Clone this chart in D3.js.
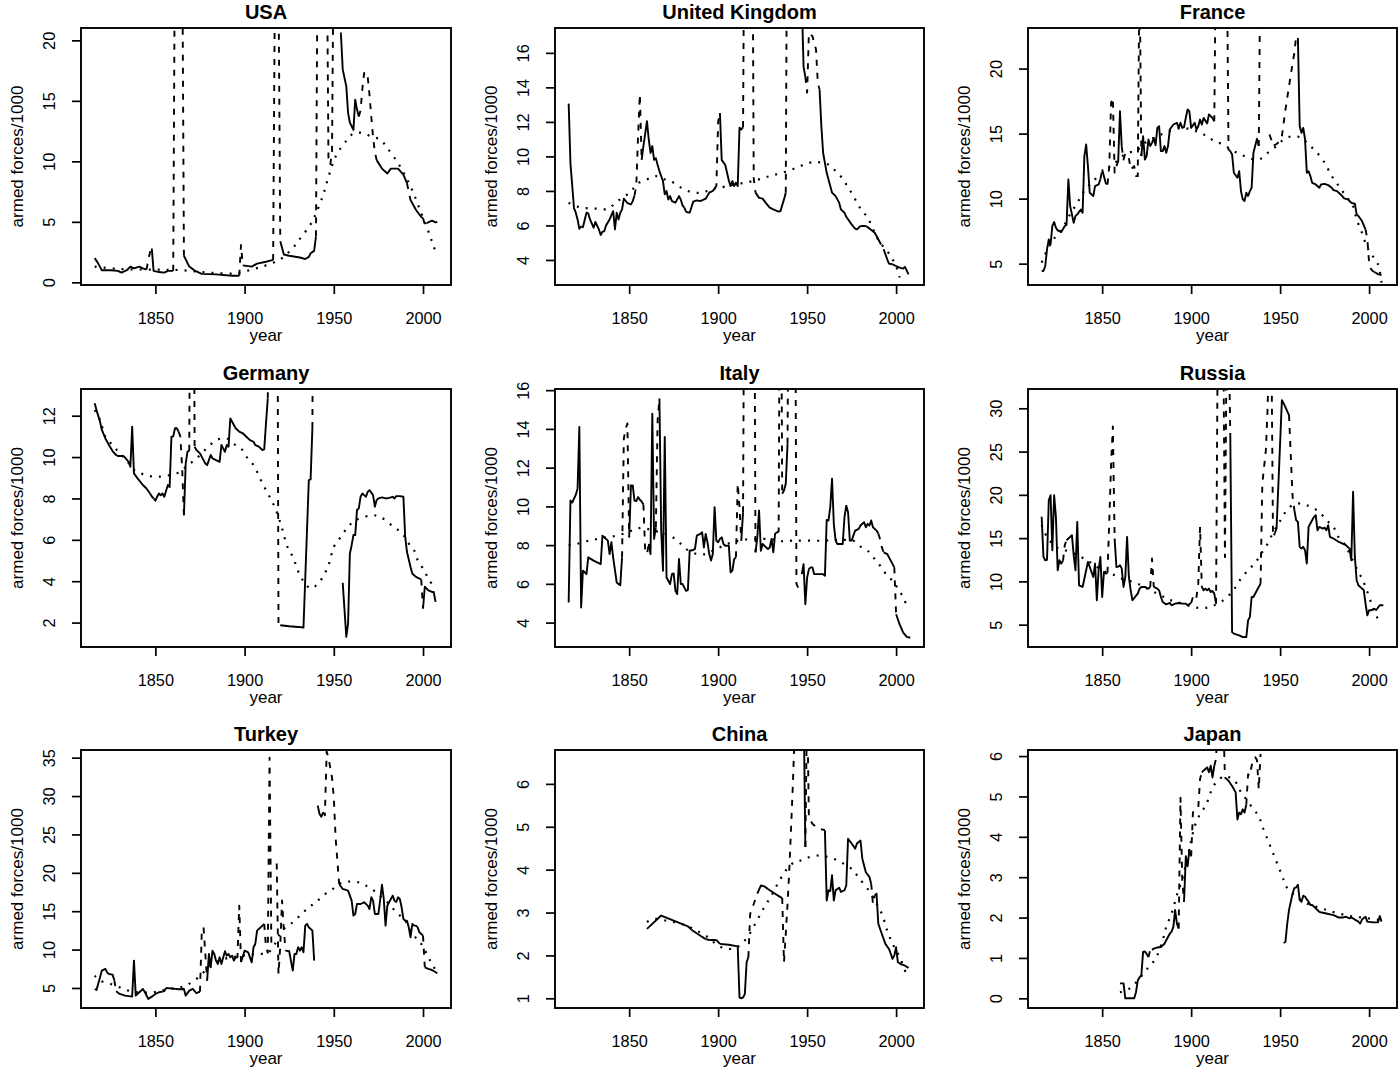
<!DOCTYPE html>
<html><head><meta charset="utf-8">
<script src="https://cdn.jsdelivr.net/npm/d3@7"></script>
<style>body{margin:0;background:#fff}svg{display:block}</style>
</head><body><svg id="chart" width="1400" height="1072"></svg>
<script>
// ---------------- DATA ----------------
const countries = ["USA","United Kingdom","France","Germany","Italy","Russia","Turkey","China","Japan"];
const yearSpan = [1816, 2008];
const xTickValues = [1850, 1900, 1950, 2000];
const yLimits = [[-0.22,21.02],[2.55,17.44],[3.36,23.12],[0.82,13.29],[2.74,16.06],[2.42,32.23],[2.39,36.0],[0.774,6.79],[-0.24,6.15]];
const yTickValues = [[0,5,10,15,20],[4,6,8,10,12,14,16],[5,10,15,20],[2,4,6,8,10,12],[4,6,8,10,12,14,16],[5,10,15,20,25,30],[5,10,15,20,25,30,35],[1,2,3,4,5,6],[0,1,2,3,4,5,6]];
const xLabel = "year";
const yLabel = "armed forces/1000";

// peace years (solid), war years (dashed), smooth trend (dotted); null = break
const usaSolid = [[1816,2.0],[1818,1.55],[1820,1.0],[1825,1.0],[1829,0.95],[1831,0.8],[1834,1.0],[1836,1.3],[1838,1.15],[1841,1.3],[1843,1.15],[1845,1.05],null,
[1848,2.8],[1849,0.95],[1852,0.85],[1855,0.8],[1857,0.95],[1860,0.95],null,
[1866,2.2],[1869,1.3],[1872,0.97],[1876,0.7],[1884,0.66],[1893,0.55],[1897,0.55],null,
[1899,1.4],[1904,1.3],[1907,1.55],[1912,1.7],[1916,1.85],null,
[1920,3.4],[1922,2.3],[1925,2.2],[1931,2.05],[1934,1.93],[1936,2.1],[1937,2.4],[1939,2.6],[1940,3.8],null,
[1954,20.5],[1955,17.6],[1957,16.2],[1958,14.0],[1959,13.2],[1961,12.6],[1962,15.1],[1963,14.3],[1964,13.7],null,
[1974,10.1],[1977,9.4],[1980,9.0],[1982,9.4],[1986,9.4],[1989,8.9],[1991,8.2],null,
[1993,6.8],[1996,6.0],[1999,5.4],[2000,5.3],null,
[2002,4.9],[2005,5.1],[2007,4.95],[2008,5.0]];
const usaDashed = [[1845,1.05],[1846,1.8],[1847,2.5],[1848,2.8],null,
[1860,0.95],[1861,30],[1865,30],[1866,2.2],null,
[1897,0.55],[1898,3.1],[1899,1.4],null,
[1916,1.85],[1917,25],[1918,30],[1919,25],[1920,3.4],null,
[1940,3.8],[1941,30],[1946,30],[1947,10.3],[1948,9.7],[1949,10.8],[1950,30],[1953,30],[1954,20.5],null,
[1964,13.7],[1965,14.2],[1966,16.0],[1967,17.3],[1968,17.4],[1969,17.0],[1970,15.5],[1971,13.7],[1972,12.0],[1973,10.8],[1974,10.1],null,
[1991,8.2],[1992,7.5],[1993,6.8],null,
[2000,5.3],[2001,4.8],[2002,4.9]];
const usaTrend = [[1816,1.3],[1830,1.1],[1850,1.05],[1865,1.0],[1880,0.8],[1895,0.75],[1905,1.1],[1912,1.4],[1920,1.9],[1924,2.4],[1928,3.0],[1931,3.6],[1937,4.8],[1940,5.7],[1944,7.2],[1947,8.7],[1951,10.4],[1957,11.7],[1961,12.3],[1966,12.35],[1971,12.05],[1976,11.8],[1980,11.1],[1986,9.85],[1990,8.8],[1994,7.6],[1998,6.1],[2002,4.6],[2004,3.8],[2006,2.95],[2008,2.2]];

const ukSolid = [[1816,13.06],[1817,9.6],[1818,8.3],[1819,7.0],[1820,6.74],[1821,6.35],[1822,5.81],[1823,5.93],[1824,5.9],[1826,6.74],[1827,6.7],[1828,6.35],[1830,5.87],[1831,6.2],[1833,5.77],[1834,5.45],[1835,5.64],[1836,5.66],[1837,6.0],[1839,6.35],[1841,6.83],[1842,5.77],[1843,6.74],[1844,6.35],[1845,6.74],[1846,6.93],[1847,7.55],[1849,7.3],[1851,7.22],[1852,7.41],[1853,7.74],null,
[1857,9.8],[1858,10.6],[1860,12.04],[1861,10.98],[1862,10.2],[1863,10.6],[1864,9.8],[1865,9.9],[1866,9.5],[1867,9.15],[1869,8.57],[1870,7.8],[1871,8.0],[1872,7.5],[1873,7.7],[1874,7.41],[1876,7.32],[1878,7.7],[1879,7.5],[1880,7.16],[1881,7.03],null,
[1882,6.78],[1884,6.74],[1886,7.38],[1888,7.45],[1890,7.41],[1893,7.55],[1895,7.9],[1897,8.0],[1898,8.13],null,
[1901,12.52],[1902,9.8],[1904,9.5],[1905,9.05],[1906,8.6],[1907,8.28],[1908,8.57],[1909,8.28],[1910,8.47],[1911,8.28],[1912,11.66],[1913,11.56],[1914,11.7],null,
[1921,7.9],[1923,7.6],[1925,7.55],[1927,7.28],[1929,7.03],[1931,6.93],[1934,6.8],[1935,6.83],[1937,7.51],[1938,7.9],null,
[1947,19.0],[1948,15.2],[1949,14.6],null,
[1957,13.87],[1958,11.75],[1959,10.2],[1961,9.05],[1963,8.28],[1964,7.9],[1966,7.7],[1968,7.32],[1969,6.93],[1971,6.74],[1972,6.5],[1975,6.06],[1977,5.81],[1978,5.77],[1980,5.97],null,
[1983,5.97],[1985,5.83],[1988,5.58],[1990,5.2],null,
[1993,4.62],[1995,4.04],[1996,3.79],[1998,3.75],null,
[2000,3.65],[2002,3.56],[2004,3.5],[2005,3.6],[2007,3.17]];
const ukDashed = [[1853,7.74],[1854,8.3],[1855,11.2],[1856,13.6],[1857,9.8],null,
[1881,7.03],[1882,6.78],null,
[1898,8.13],[1899,8.3],[1900,12.0],[1901,12.52],null,
[1914,11.7],[1915,30],[1919,30],[1920,8.7],[1921,7.9],null,
[1938,7.9],[1939,30],[1946,30],[1947,19.0],null,
[1949,14.6],[1950,13.7],[1951,17.15],[1953,16.96],[1955,16.19],[1956,14.26],[1957,13.87],null,
[1980,5.97],[1983,5.97],null,
[1990,5.2],[1991,5.0],[1993,4.62],null,
[1998,3.75],[2000,3.65]];
const ukTrend = [[1816,7.32],[1821,7.09],[1826,7.0],[1832,6.97],[1838,6.95],[1842,7.28],[1846,7.6],[1851,7.95],[1854,8.38],[1860,8.67],[1865,8.86],[1870,8.67],[1875,8.47],[1880,8.13],[1885,7.93],[1890,7.9],[1894,8.0],[1898,8.15],[1901,8.19],[1908,8.35],[1917,8.51],[1923,8.67],[1929,8.86],[1936,9.05],[1944,9.34],[1951,9.63],[1956,9.67],[1962,9.53],[1965,9.25],[1968,8.96],[1972,8.38],[1976,7.7],[1980,6.97],[1984,6.45],[1988,5.58],[1991,5.0],[1995,4.52],[1998,4.04],[2000,3.65],[2002,2.98]];

const franceSolid = [[1816,4.44],[1817,4.44],[1818,4.8],[1819,6.1],[1820,6.87],[1821,6.48],[1822,7.9],[1823,8.2],[1824,7.76],[1825,7.56],[1827,7.43],[1829,7.9],[1830,8.0],[1831,11.48],[1832,9.43],[1834,8.15],[1835,8.66],[1836,8.79],[1838,9.17],[1839,8.92],[1840,13.27],[1841,14.16],[1842,12.5],[1843,10.45],[1845,10.2],[1846,10.96],[1848,11.09],[1849,11.48],null,
[1850,12.24],[1852,11.2],[1853,11.09],null,
[1858,12.5],[1859,12.88],[1860,16.72],[1861,14.0],null,
[1872,13.27],[1873,14.8],[1874,13.0],[1875,13.27],[1876,14.55],[1877,14.04],[1878,14.29],[1879,14.67],[1880,14.1],[1881,15.44],[1882,15.57],[1883,13.65],[1884,13.65],[1885,14.04],[1886,13.52],[1887,14.04],[1888,15.31],[1890,15.7],[1892,15.83],[1893,15.44],[1894,15.83],[1895,15.44],[1896,15.5],[1897,16.21],[1898,16.85],[1899,16.72],[1900,15.44],[1902,15.83],[1903,15.31],[1904,15.57],[1905,16.08],[1906,15.7],[1907,16.21],[1909,15.78],[1910,16.47],[1911,16.34],[1912,16.2],[1913,15.95],null,
[1922,13.65],[1923,13.4],[1924,11.99],[1925,11.8],[1926,11.6],[1927,12.11],[1928,10.58],[1929,9.94],[1930,9.81],[1931,10.45],[1932,10.2],[1933,10.58],[1934,10.84],[1935,13.52],[1937,14.6],[1938,14.04],null,
[1960,22.35],[1961,15.57],[1962,15.06],[1963,15.44],[1964,14.55],[1965,11.99],[1966,12.1],[1967,11.73],[1968,11.22],[1970,11.09],[1972,10.84],[1973,11.09],[1975,11.14],[1977,11.04],[1979,10.84],[1980,10.66],[1982,10.58],[1984,10.32],[1986,10.02],[1988,9.94],[1990,9.68],[1992,9.61],[1993,8.79],[1994,8.66],[1996,8.28],[1998,7.64],null,
[2003,4.36],[2005,4.2],[2007,4.13]];
const franceDashed = [[1849,11.48],[1850,12.24],null,
[1853,11.09],[1854,12.5],[1855,17.36],[1856,17.75],[1857,12.0],[1858,12.5],null,
[1861,14.0],[1862,13.0],[1863,13.5],[1865,13.14],[1866,12.24],[1868,12.5],[1869,11.73],[1870,11.73],[1871,28],[1872,13.27],null,
[1913,15.95],[1914,30],[1920,30],[1921,13.78],[1922,13.65],null,
[1938,14.04],[1939,30],null,
[1944,14.93],[1945,14.55],[1946,14.04],[1948,14.2],[1950,14.42],[1951,14.8],[1953,16.85],[1956,19.54],[1958,21.2],[1959,22.48],[1960,22.35],null,
[1998,7.64],[1999,6.9],[2000,5.08],[2001,4.6],[2002,4.44],[2003,4.36]];
const franceTrend = [[1816,5.08],[1820,6.3],[1824,7.12],[1828,7.8],[1832,8.8],[1836,9.68],[1840,10.6],[1845,11.35],[1850,11.99],[1855,12.5],[1860,13.1],[1864,13.52],[1869,13.65],[1874,14.29],[1881,14.8],[1888,15.19],[1895,15.44],[1900,15.31],[1905,15.06],[1909,14.8],[1913,14.42],[1918,14.16],[1924,13.65],[1929,13.32],[1934,13.06],[1939,13.06],[1943,13.52],[1948,14.04],[1952,14.55],[1957,14.8],[1962,14.67],[1966,14.16],[1970,13.65],[1975,12.76],[1979,11.73],[1983,10.96],[1987,10.2],[1991,9.43],[1993,8.4],[1996,7.38],[1999,6.23],[2002,5.59],[2005,4.95],[2007,3.54]];

const germanySolid = [[1816,12.6],[1817,12.27],[1819,11.71],[1820,11.31],[1822,10.9],[1824,10.58],[1826,10.29],[1828,10.1],[1829,10.05],[1832,10.06],[1833,9.97],[1835,9.77],[1836,9.53],[1837,11.47],[1838,9.21],[1840,8.97],[1843,8.65],[1845,8.48],[1847,8.24],null,
[1849,8.0],[1850,7.89],[1851,8.08],[1852,8.24],[1853,8.15],[1854,8.24],[1855,8.08],[1857,8.65],[1858,8.55],[1859,10.98],[1860,11.0],[1861,11.39],[1862,11.39],[1863,11.23],null,
[1866,7.19],[1867,9.69],[1868,10.26],[1869,10.3],null,
[1872,10.5],[1873,10.34],[1875,10.18],[1877,9.85],[1878,9.69],[1879,9.61],[1881,10.1],[1882,9.94],[1884,9.85],[1886,9.77],[1887,10.58],[1888,10.42],[1889,10.26],[1890,10.58],[1891,10.5],[1892,11.87],[1893,11.71],[1895,11.39],[1897,11.23],[1899,11.15],[1901,10.98],[1903,10.82],[1905,10.74],[1906,10.58],[1908,10.5],[1910,10.34],[1911,10.37],[1912,11.63],[1913,12.84],null,
[1920,1.87],[1925,1.82],[1930,1.79],[1933,1.76],[1936,8.89],[1937,8.92],[1938,11.4],null,
[1955,3.92],[1957,1.31],[1958,1.95],[1959,5.34],[1960,5.74],[1961,6.23],[1962,6.23],[1963,7.44],[1964,7.52],[1965,8.08],[1966,8.24],[1967,8.16],[1968,8.08],[1969,8.32],[1970,8.4],[1972,8.16],[1973,7.6],[1974,7.92],[1975,8.0],[1977,8.05],[1979,8.0],[1981,8.03],[1983,8.08],[1984,8.0],[1985,8.11],[1987,8.11],[1989,8.08],[1990,6.15],[1991,5.42],[1993,4.69],[1994,4.37],[1996,4.21],[1998,4.13],[1999,4.08],null,
[2000,2.68],[2001,3.73],[2003,3.56],[2005,3.48],[2006,3.48],[2007,3.0]];
const germanyDashed = [[1847,8.24],[1848,8.1],[1849,8.0],null,
[1863,11.23],[1864,11.0],[1865,9.5],[1866,7.19],null,
[1869,10.3],[1870,30],[1871,30],[1872,10.5],null,
[1913,12.84],[1914,30],[1918,30],[1919,1.87],[1920,1.87],null,
[1938,11.4],[1939,30],null,
[1999,4.08],[2000,2.68]];
const germanyTrend = [[1816,12.27],[1819,11.79],[1822,10.98],[1826,10.58],[1830,10.18],[1834,9.85],[1837,9.45],[1842,9.21],[1847,9.08],[1852,9.05],[1858,9.13],[1864,9.29],[1868,9.61],[1872,9.85],[1876,10.18],[1880,10.53],[1885,10.85],[1890,10.9],[1894,10.63],[1898,10.42],[1901,10.02],[1905,9.61],[1910,8.73],[1915,7.92],[1918,7.35],[1921,6.55],[1924,5.66],[1927,5.18],[1931,4.29],[1934,3.89],[1937,3.65],[1942,3.97],[1947,4.77],[1950,5.66],[1954,6.15],[1958,6.63],[1962,6.95],[1965,7.03],[1971,7.19],[1976,7.11],[1981,6.79],[1985,6.55],[1989,6.23],[1992,5.82],[1995,5.5],[1997,5.02],[2000,4.61],[2003,4.13],[2006,3.73]];

const italySolid = [[1816,5.04],[1817,10.3],[1818,10.2],[1819,10.4],[1820,10.6],[1821,10.91],[1822,14.1],[1823,4.78],[1824,6.68],[1825,6.6],[1826,6.5],[1827,7.37],[1830,7.2],[1832,7.11],[1834,7.02],[1835,8.49],[1837,8.32],[1838,8.23],[1839,7.54],[1840,8.15],[1841,7.37],[1843,6.07],[1844,5.99],[1845,5.93],[1846,7.37],null,
[1850,8.4],[1851,11.08],[1852,11.08],[1853,10.3],[1854,10.27],[1855,10.48],[1856,10.34],[1857,10.25],[1858,10.1],null,
[1861,8.06],[1862,7.54],[1863,14.79],[1864,8.32],[1865,8.92],null,
[1867,15.57],[1868,8.75],[1869,6.68],[1870,13.59],[1871,6.33],[1873,5.99],[1874,6.5],[1875,6.54],[1876,5.64],[1877,5.47],[1878,7.28],[1879,5.99],[1880,5.99],[1881,5.81],[1882,5.64],[1883,5.68],[1884,7.71],[1886,7.75],[1887,7.8],[1888,8.49],[1890,8.58],[1891,8.66],[1892,7.88],[1893,8.58],[1894,8.15],[1895,7.54],[1896,7.2],[1897,7.54],[1898,9.96],[1899,8.23],[1900,8.15],[1901,8.32],[1902,8.4],[1903,8.06],[1904,7.97],[1906,7.97],[1907,6.59],[1908,6.68],[1909,7.28],[1910,7.37],null,
[1913,8.23],[1914,9.7],null,
[1921,7.63],[1922,8.4],[1923,9.79],[1924,7.71],[1925,8.06],[1926,7.97],[1928,7.8],[1929,7.88],[1930,8.32],[1931,7.63],[1932,8.58],[1933,8.66],null,
[1936,10.65],[1937,10.82],[1938,11.17],[1939,13.24],null,
[1947,6.5],[1948,7.02],[1949,4.95],[1950,6.33],[1951,6.76],[1952,6.85],[1953,6.85],[1954,6.5],[1957,6.5],[1959,6.5],[1960,6.42],[1961,9.3],[1962,9.27],[1963,9.96],[1964,11.43],[1965,9.1],[1966,8.23],[1967,8.06],[1970,8.06],[1971,9.44],[1972,10.04],[1973,9.7],[1974,8.23],[1975,8.23],[1977,8.75],[1979,8.84],[1980,9.01],[1982,9.18],[1983,8.92],[1984,9.1],[1985,9.01],[1986,9.27],[1987,8.92],[1988,8.84],[1989,8.75],[1990,8.6],null,
[1993,7.63],[1995,7.54],[1997,7.2],[1999,6.85],null,
[2000,4.43],[2002,3.91],[2004,3.48],[2006,3.26],[2008,3.22]];
const italyDashed = [[1846,7.37],[1847,13.5],[1848,14.0],[1849,14.28],[1850,8.4],null,
[1858,10.1],[1859,7.71],[1860,7.54],[1861,8.06],null,
[1865,8.92],[1866,14.45],[1867,15.57],null,
[1910,7.37],[1911,11.17],[1912,9.96],[1913,8.23],null,
[1914,9.7],[1915,30],[1920,30],[1921,7.63],null,
[1933,8.66],[1934,8.7],[1935,30],[1936,10.65],null,
[1939,13.24],[1940,30],[1943,30],[1944,6.0],[1945,5.8],[1946,6.1],null,
[1990,8.6],[1991,8.3],[1992,7.88],[1993,7.63],null,
[1999,6.85],[2000,4.43]];
const italyTrend = [[1816,8.0],[1820,8.05],[1826,8.2],[1831,8.3],[1837,8.4],[1843,8.49],[1849,8.66],[1854,8.84],[1858,8.9],[1863,8.75],[1868,8.66],[1873,8.49],[1878,8.15],[1882,7.8],[1888,7.54],[1893,7.54],[1897,7.71],[1903,7.97],[1908,8.15],[1914,8.27],[1920,8.32],[1930,8.3],[1936,8.2],[1942,8.23],[1950,8.23],[1959,8.23],[1965,8.27],[1970,8.27],[1976,8.23],[1980,7.92],[1984,7.71],[1988,7.28],[1991,6.94],[1995,6.42],[1998,6.16],[2001,5.76],[2004,5.3],[2006,4.86]];

const russiaSolid = [[1816,17.46],[1817,12.83],[1818,12.44],[1819,12.5],[1820,19.38],[1821,19.96],[1822,13.6],[1823,19.96],[1824,17.46],[1825,11.29],[1826,12.44],[1827,12.06],[1828,12.4],null,
[1830,14.76],[1832,15.14],[1833,15.34],[1834,13.0],[1835,11.29],[1836,16.88],[1837,9.55],[1839,9.36],[1841,11.29],[1842,12.25],[1844,11.09],[1845,10.51],[1846,12.06],[1847,7.82],[1848,11.29],[1849,12.83],[1850,8.2],[1851,11.09],[1852,10.9],[1853,11.0],null,
[1857,14.95],[1858,11.67],[1859,11.7],[1860,11.86],[1861,11.48],[1862,9.36],[1863,10.51],[1864,15.14],[1865,10.51],[1866,9.0],[1867,7.82],[1870,8.59],[1871,9.17],[1872,9.36],[1874,9.36],[1876,9.17],[1877,9.36],null,
[1879,9.36],[1881,9.17],[1882,8.97],[1883,8.2],[1884,7.62],[1886,7.35],[1888,7.51],[1889,7.24],[1891,7.43],[1893,7.51],[1895,7.43],[1897,7.43],[1898,7.24],[1900,7.51],null,
[1906,9.36],[1907,8.97],[1908,9.17],[1909,8.97],[1910,9.17],[1911,8.78],[1912,8.9],[1913,8.59],[1914,7.43],null,
[1922,26.9],[1923,4.15],[1924,3.96],[1927,3.77],[1929,3.57],[1931,3.57],[1932,5.5],[1933,5.89],[1934,8.2],[1935,8.2],[1937,8.97],[1939,9.74],null,
[1947,15.53],[1948,16.11],[1951,30.95],[1952,30.57],[1955,29.22],null,
[1958,18.23],[1959,17.07],[1960,16.88],[1961,13.99],[1962,13.79],[1963,13.99],[1964,13.6],[1965,12.06],[1966,16.3],[1967,16.69],[1969,17.46],[1970,17.65],[1971,15.91],[1972,16.3],[1974,16.11],[1975,16.2],[1976,15.91],[1977,16.49],[1978,15.14],[1980,14.95],[1983,14.56],[1987,14.18],[1989,13.79],[1990,12.44],[1991,20.35],[1992,12.83],[1993,10.13],[1994,9.55],[1996,9.17],[1997,9.0],[1998,7.43],[1999,6.08],[2000,6.66],[2001,6.66],[2003,6.85],[2004,6.7],[2006,7.24],[2008,7.24]];
const russiaDashed = [[1828,12.4],[1829,14.2],[1830,14.76],null,
[1853,11.0],[1854,17.0],[1855,23.5],[1856,27.9],[1857,14.95],null,
[1877,9.36],[1878,12.64],[1879,9.36],null,
[1900,7.51],[1901,8.2],[1902,8.59],[1903,8.2],[1904,9.74],[1905,16.3],[1906,9.36],null,
[1914,7.43],[1915,40],[1918,40],[1919,12.8],[1920,40],[1921,40],[1922,26.9],null,
[1939,9.74],[1940,21.31],[1942,25.17],[1943,30.18],[1944,40],[1945,40],[1946,15.14],[1947,15.53],null,
[1955,29.22],[1956,24.5],[1957,19.8],[1958,18.23]];
const russiaTrend = [[1816,16.49],[1819,15.14],[1824,13.99],[1829,13.6],[1832,13.41],[1838,12.83],[1843,12.25],[1847,11.67],[1852,11.09],[1857,10.71],[1861,10.32],[1867,9.94],[1872,9.55],[1877,8.97],[1883,8.39],[1887,7.93],[1892,7.62],[1898,7.24],[1903,6.97],[1909,6.97],[1913,7.24],[1918,7.82],[1923,8.78],[1928,10.32],[1932,11.29],[1936,12.13],[1939,13.1],[1942,14.0],[1946,15.6],[1950,17.0],[1953,18.0],[1957,18.81],[1962,19.0],[1967,18.61],[1972,18.03],[1976,17.07],[1980,16.3],[1982,15.34],[1986,14.37],[1989,13.21],[1993,11.48],[1996,10.32],[1998,9.36],[2000,8.2],[2002,7.04],[2004,6.08],[2006,5.12]];

const turkeySolid = [[1816,4.87],[1817,4.74],[1819,6.39],[1820,7.26],[1822,7.48],[1823,7.0],[1824,6.82],[1826,6.74],[1827,6.0],null,
[1828,4.57],[1830,4.22],[1833,4.0],[1837,3.87],[1838,8.56],[1839,4.0],[1841,4.44],[1843,4.87],[1844,4.5],[1846,3.57],[1848,3.87],[1850,4.22],[1852,4.44],[1854,4.52],null,
[1856,5.0],[1860,4.91],[1863,4.83],[1866,4.87],[1867,4.0],[1869,4.65],[1871,4.87],[1873,4.31],[1874,4.44],[1875,4.5],null,
[1879,5.96],[1880,9.43],[1881,7.69],[1882,9.86],[1883,9.43],[1884,8.56],[1885,8.13],[1886,8.99],[1887,8.13],[1889,9.78],[1890,9.21],[1891,9.43],[1892,8.99],[1893,9.21],[1894,8.56],[1895,8.99],null,
[1898,8.34],[1900,9.86],[1902,9.65],[1903,8.99],[1904,8.34],[1905,10.3],[1906,10.73],[1907,12.47],[1908,12.69],[1909,12.9],[1910,13.12],[1911,13.34],null,
[1923,9.86],[1925,9.78],[1927,7.26],[1928,9.43],[1929,9.43],[1930,10.3],[1931,9.86],[1932,10.3],[1933,9.65],[1934,13.12],[1935,13.34],[1936,12.9],[1938,12.47],[1939,8.56],null,
[1941,28.75],[1942,27.67],[1943,27.3],[1944,27.88],null,
[1953,18.55],[1955,17.9],[1958,17.68],[1960,16.38],[1961,14.42],[1962,14.64],[1963,15.94],[1965,15.94],[1967,16.16],[1969,15.73],[1970,15.29],[1971,16.81],[1972,16.38],[1973,14.64],[1975,14.64],[1976,16.5],[1977,18.46],[1978,16.59],[1979,13.12],[1980,15.73],[1981,16.16],[1983,17.03],[1984,16.38],[1985,16.2],[1986,16.81],[1987,16.59],[1988,15.51],[1989,13.99],[1990,13.77],[1991,13.77],[1992,12.9],[1993,11.6],[1994,13.34],[1995,13.12],[1996,13.12],[1997,12.9],[1998,12.25],[2000,11.82],null,
[2001,7.69],[2003,7.48],[2005,7.34],[2008,6.91]];
const turkeyDashed = [[1827,6.0],[1828,4.57],null,
[1854,4.52],[1855,4.6],[1856,5.0],null,
[1875,4.5],[1876,12.25],[1877,12.9],[1878,9.43],[1879,5.96],null,
[1895,8.99],[1896,9.0],[1897,15.73],[1898,8.34],null,
[1911,13.34],[1912,10.3],[1913,9.6],[1914,35],[1915,10.6],null,
[1918,21.2],[1919,6.8],[1920,10.5],[1921,16.4],[1922,12.5],[1923,9.86],null,
[1944,27.88],[1945,27.5],[1946,35.8],[1947,35.0],[1949,32.4],[1950,29.8],[1951,24.6],[1952,21.6],[1953,18.55],null,
[2000,11.82],[2001,7.69]];
const turkeyTrend = [[1816,6.61],[1819,5.96],[1825,5.52],[1831,5.0],[1836,4.57],[1842,4.39],[1848,4.44],[1852,4.57],[1858,4.87],[1864,5.09],[1868,5.43],[1873,6.17],[1877,7.04],[1880,7.78],[1886,8.56],[1892,8.99],[1897,9.13],[1903,9.34],[1908,9.43],[1913,9.56],[1917,10.73],[1921,12.47],[1927,13.55],[1932,14.64],[1936,15.51],[1940,16.16],[1944,17.03],[1949,17.81],[1953,18.55],[1958,18.85],[1964,18.76],[1968,18.33],[1973,17.59],[1977,16.81],[1981,15.94],[1985,14.86],[1990,13.77],[1995,11.82],[1999,10.73],[2004,8.56],[2007,7.34]];

const chinaSolid = [[1860,2.62],[1868,2.93],[1875,2.81],[1883,2.68],null,
[1885,2.6],[1890,2.46],[1893,2.38],null,
[1895,2.36],[1899,2.36],null,
[1901,2.27],[1906,2.25],[1911,2.21],[1912,1.02],[1913,1.0],[1914,1.02],[1915,1.1],[1916,1.84],[1917,1.96],null,
[1922,3.44],[1924,3.63],[1926,3.61],[1928,3.55],[1932,3.44],[1935,3.36],[1936,3.34],null,
[1948,8],[1949,4.53],null,
[1960,4.92],[1961,3.28],[1962,3.52],[1963,3.5],[1964,3.87],[1965,3.28],[1966,3.52],[1968,3.58],[1969,3.48],[1971,3.52],[1972,3.63],[1973,4.72],[1975,4.61],[1977,4.49],[1978,4.61],[1980,4.68],[1981,4.26],[1983,3.94],[1985,3.83],[1986,3.67],null,
[1988,3.4],[1989,3.44],[1990,2.74],[1992,2.5],[1994,2.27],[1996,2.15],[1997,2.04],[1998,1.92],[1999,2.0],[2000,2.19],[2001,1.84],[2003,1.79],[2005,1.76],[2007,1.71]];
const chinaDashed = [[1883,2.68],[1885,2.6],null,
[1893,2.38],[1895,2.36],null,
[1899,2.36],[1901,2.27],null,
[1917,1.96],[1918,2.97],[1920,3.2],[1921,3.32],[1922,3.44],null,
[1936,3.34],[1937,1.84],[1938,2.5],[1939,3.2],[1940,4.0],[1941,5.0],[1942,6.0],[1943,7.2],[1948,8],null,
[1949,4.53],[1950,8],[1951,5.2],[1953,5.07],[1956,4.96],[1960,4.92],null,
[1986,3.67],[1987,3.2],[1988,3.4]];
const chinaTrend = [[1860,2.78],[1864,2.85],[1871,2.81],[1879,2.74],[1886,2.62],[1894,2.43],[1900,2.23],[1906,2.15],[1911,2.2],[1916,2.4],[1921,2.75],[1926,3.13],[1930,3.4],[1934,3.71],[1938,3.98],[1943,4.18],[1947,4.22],[1951,4.29],[1957,4.33],[1962,4.29],[1967,4.22],[1972,4.1],[1976,3.98],[1979,3.81],[1984,3.55],[1988,3.28],[1992,2.97],[1995,2.58],[1998,2.27],[2002,1.96],[2006,1.53]];

const japanSolid = [[1860,0.37],[1862,0.37],[1863,0.0],[1868,0.0],[1869,0.15],[1870,0.44],[1871,0.52],[1872,0.57],[1873,1.15],[1874,1.16],[1875,1.1],[1876,1.02],null,
[1878,1.2],[1879,1.23],[1881,1.26],[1883,1.27],[1885,1.35],[1886,1.44],[1888,1.6],[1889,1.65],[1890,1.77],[1891,2.19],[1892,1.85],[1893,1.73],null,
[1896,2.39],[1897,3.52],[1898,3.27],[1899,3.68],[1900,3.52],null,
[1906,5.6],[1907,5.64],[1908,5.68],[1909,5.72],[1910,5.6],[1911,5.76],[1912,5.47],[1913,5.76],null,
[1919,5.47],[1921,5.39],[1923,5.26],[1925,5.1],[1926,4.43],[1927,4.6],[1928,4.56],[1929,4.68],[1930,4.6],[1931,4.8],null,
[1952,1.37],[1953,1.4],[1954,1.85],[1955,2.19],[1956,2.39],[1957,2.6],[1958,2.73],[1959,2.75],[1960,2.81],[1961,2.44],[1962,2.39],[1963,2.54],[1964,2.52],[1965,2.45],[1966,2.39],[1967,2.31],[1968,2.31],[1970,2.23],[1972,2.14],[1974,2.12],[1976,2.1],[1978,2.08],[1980,2.06],[1981,2.04],[1983,2.0],[1985,2.0],[1987,2.02],[1989,1.98],[1990,2.0],[1991,1.98],[1992,1.95],[1994,1.9],[1995,1.85],[1996,1.95],[1998,2.02],[1999,1.9],[2002,1.88],[2005,1.88],[2006,2.04],[2007,1.9]];
const japanDashed = [[1876,1.02],[1877,1.19],[1878,1.2],null,
[1893,1.73],[1894,4.97],[1895,2.93],[1896,2.39],null,
[1900,3.52],[1901,4.6],[1902,4.68],[1903,4.7],[1904,4.72],[1905,5.43],[1906,5.6],null,
[1913,5.76],[1914,5.93],[1915,7],[1918,7],[1919,5.47],null,
[1931,4.8],[1932,5.55],[1933,5.51],[1934,5.76],[1935,5.93],[1936,5.97],[1937,5.9],[1938,5.18],[1939,6.05]];
const japanTrend = [[1860,0.15],[1865,0.23],[1870,0.44],[1876,0.77],[1880,0.98],[1884,1.44],[1886,1.77],[1889,2.1],[1892,2.56],[1895,2.95],[1898,3.5],[1900,3.9],[1902,4.26],[1905,4.56],[1908,4.76],[1910,4.97],[1912,5.22],[1915,5.39],[1919,5.51],[1923,5.43],[1926,5.3],[1928,5.1],[1931,4.93],[1935,4.68],[1938,4.51],[1940,4.26],[1943,3.93],[1946,3.6],[1949,3.27],[1952,2.93],[1954,2.73],[1959,2.52],[1965,2.35],[1970,2.27],[1976,2.19],[1981,2.12],[1987,2.06],[1992,2.02],[1998,1.99],[2004,1.95],[2007,1.94]];

const solidSeries  = [usaSolid, ukSolid, franceSolid, germanySolid, italySolid, russiaSolid, turkeySolid, chinaSolid, japanSolid];
const dashedSeries = [usaDashed, ukDashed, franceDashed, germanyDashed, italyDashed, russiaDashed, turkeyDashed, chinaDashed, japanDashed];
const trendSeries  = [usaTrend, ukTrend, franceTrend, germanyTrend, italyTrend, russiaTrend, turkeyTrend, chinaTrend, japanTrend];

// ---------------- LAYOUT ----------------
const FONT = "'Liberation Sans', Arial, Helvetica, sans-serif";
const colLeft = [81, 555, 1028], colRight = [451, 924, 1397];
const rowTop = [28, 389, 750], rowBottom = [285, 647, 1008];
const LW = 1.9;

const svg = d3.select("#chart");
svg.append("rect").attr("width", 1400).attr("height", 1072).attr("fill", "#fff");
const defs = svg.append("defs");
const pad = (yearSpan[1] - yearSpan[0]) * 0.04;

countries.forEach((name, i) => {
  const c = i % 3, r = Math.floor(i / 3);
  const L = colLeft[c], R = colRight[c], T = rowTop[r], B = rowBottom[r];
  const x = d3.scaleLinear().domain([yearSpan[0] - pad, yearSpan[1] + pad]).range([L, R]);
  const y = d3.scaleLinear().domain(yLimits[i]).range([B, T]);

  defs.append("clipPath").attr("id", "clip" + i)
    .append("rect").attr("x", L).attr("y", T).attr("width", R - L).attr("height", B - T);

  const g = svg.append("g");
  const plot = g.append("g").attr("clip-path", `url(#clip${i})`);

  const line = d3.line().defined(d => d != null).x(d => x(d[0])).y(d => y(d[1]));
  const smooth = d3.line().x(d => x(d[0])).y(d => y(d[1])).curve(d3.curveCatmullRom.alpha(0.5));

  plot.append("path").datum(trendSeries[i]).attr("d", smooth)
    .attr("fill", "none").attr("stroke", "#000").attr("stroke-width", 2.2)
    .attr("stroke-dasharray", "2,7");
  plot.append("path").datum(dashedSeries[i]).attr("d", line)
    .attr("fill", "none").attr("stroke", "#000").attr("stroke-width", LW)
    .attr("stroke-dasharray", "6,7").attr("stroke-linejoin", "round");
  plot.append("path").datum(solidSeries[i]).attr("d", line)
    .attr("fill", "none").attr("stroke", "#000").attr("stroke-width", LW)
    .attr("stroke-linejoin", "round");

  g.append("rect").attr("x", L).attr("y", T).attr("width", R - L).attr("height", B - T)
    .attr("fill", "none").attr("stroke", "#000").attr("stroke-width", 1.9);

  const xa = g.append("g").attr("transform", `translate(0,${B})`)
    .call(d3.axisBottom(x).tickValues(xTickValues).tickSize(9).tickFormat(d3.format("d")))
    .attr("font-family", FONT).attr("font-size", 16.3);
  xa.select(".domain").remove();
  xa.selectAll(".tick line").attr("stroke", "#000").attr("stroke-width", 1.7);
  xa.selectAll(".tick text").attr("y", 39).attr("dy", null).attr("fill", "#000");

  const ya = g.append("g").attr("transform", `translate(${L},0)`)
    .call(d3.axisLeft(y).tickValues(yTickValues[i]).tickSize(9).tickFormat(d3.format("d")))
    .attr("font-family", FONT).attr("font-size", 16.3);
  ya.select(".domain").remove();
  ya.selectAll(".tick line").attr("stroke", "#000").attr("stroke-width", 1.7);
  ya.selectAll(".tick text").attr("transform", "rotate(-90)")
    .attr("x", 0).attr("y", -26).attr("dy", null)
    .attr("text-anchor", "middle").attr("fill", "#000");

  g.append("text").attr("x", (L + R) / 2).attr("y", T - 9.5)
    .attr("text-anchor", "middle").attr("font-family", FONT)
    .attr("font-size", 20).attr("font-weight", "bold").attr("fill", "#000").text(name);
  g.append("text").attr("x", (L + R) / 2).attr("y", B + 56)
    .attr("text-anchor", "middle").attr("font-family", FONT)
    .attr("font-size", 17).attr("fill", "#000").text(xLabel);
  g.append("text").attr("transform", `translate(${L - 58},${(T + B) / 2}) rotate(-90)`)
    .attr("text-anchor", "middle").attr("font-family", FONT)
    .attr("font-size", 17).attr("fill", "#000").text(yLabel);
});
</script></body></html>
